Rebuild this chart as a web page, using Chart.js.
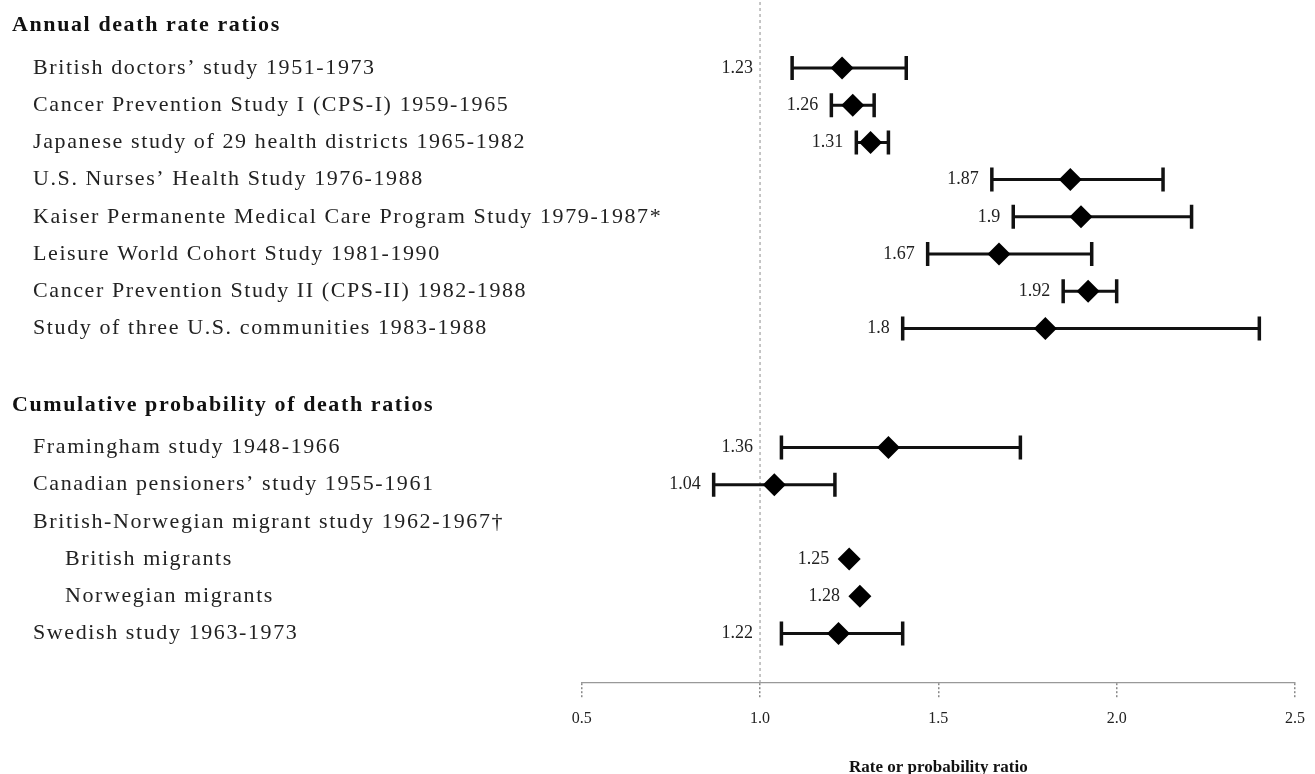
<!DOCTYPE html>
<html>
<head>
<meta charset="utf-8">
<script src="https://cdn.jsdelivr.net/npm/chart.js@4.4.0/dist/chart.umd.min.js"></script>
<style>
  html, body { margin: 0; padding: 0; background: #fff; }
  #wrap { width: 1315px; height: 774px; position: relative; }
</style>
</head>
<body>
<div id="wrap"><canvas id="chart"></canvas></div>
<script>
const sectionTitles = ["Annual death rate ratios", "Cumulative probability of death ratios"]

const studyLabels = [
  "British doctors\u2019 study 1951-1973",
  "Cancer Prevention Study I (CPS-I) 1959-1965",
  "Japanese study of 29 health districts 1965-1982",
  "U.S. Nurses\u2019 Health Study 1976-1988",
  "Kaiser Permanente Medical Care Program Study 1979-1987*",
  "Leisure World Cohort Study 1981-1990",
  "Cancer Prevention Study II (CPS-II) 1982-1988",
  "Study of three U.S. communities 1983-1988",
  "Framingham study 1948-1966",
  "Canadian pensioners\u2019 study 1955-1961",
  "British-Norwegian migrant study 1962-1967\u2020",
  "British migrants",
  "Norwegian migrants",
  "Swedish study 1963-1973",
]
const studySection = [0, 0, 0, 0, 0, 0, 0, 0, 1, 1, 1, 1, 1, 1]
const studyIndent  = [1, 1, 1, 1, 1, 1, 1, 1, 1, 1, 1, 2, 2, 1]

const ratios  = [1.23, 1.26, 1.31, 1.87, 1.9, 1.67, 1.92, 1.8, 1.36, 1.04, null, 1.25, 1.28, 1.22]
const lowerCI = [1.09, 1.20, 1.27, 1.65, 1.71, 1.47, 1.85, 1.40, 1.06, 0.87, null, null, null, 1.06]
const upperCI = [1.41, 1.32, 1.36, 2.13, 2.21, 1.93, 2.00, 2.40, 1.73, 1.21, null, null, null, 1.40]

const xTicks = [0.5, 1.0, 1.5, 2.0, 2.5]
const refValue = 1.0

// row layout (in row units)
const HEADER_GAP = 1.14
const SECTION_GAP = 2.06
const rowY = []
const headerY = []
studyLabels.forEach((_, i) => {
  if (i === 0) {
    rowY.push(0)
    headerY.push(-HEADER_GAP)
  } else if (studySection[i] !== studySection[i - 1]) {
    const h = rowY[i - 1] + SECTION_GAP
    headerY.push(h)
    rowY.push(h + HEADER_GAP)
  } else {
    rowY.push(rowY[i - 1] + 1)
  }
})

const SERIF = "'Liberation Serif', 'Times New Roman', serif"
const ROW_PX = 37.2
const FIRST_ROW_PX = 68
const AXIS_PX = 683

const points = []
ratios.forEach((r, i) => {
  if (r !== null) points.push({ x: r, y: rowY[i], i })
})

const forestPlugin = {
  id: "forest",
  beforeDatasetsDraw(chart) {
    const { ctx, chartArea, scales } = chart
    const xs = scales.x, ys = scales.y

    // reference line at 1.0
    const rx = xs.getPixelForValue(refValue)
    ctx.save()
    ctx.strokeStyle = "#a0a0a0"
    ctx.lineWidth = 1.2
    ctx.setLineDash([3, 3])
    ctx.beginPath()
    ctx.moveTo(rx, chartArea.top + 2)
    ctx.lineTo(rx, chartArea.bottom)
    ctx.stroke()
    ctx.restore()

    // confidence intervals
    ctx.save()
    ctx.strokeStyle = "#111"
    ratios.forEach((r, i) => {
      if (lowerCI[i] === null) return
      const y = ys.getPixelForValue(rowY[i])
      const x1 = xs.getPixelForValue(lowerCI[i])
      const x2 = xs.getPixelForValue(upperCI[i])
      ctx.lineWidth = 3
      ctx.beginPath()
      ctx.moveTo(x1, y)
      ctx.lineTo(x2, y)
      ctx.stroke()
      ctx.lineWidth = 3.5
      ctx.beginPath()
      ctx.moveTo(x1, y - 12)
      ctx.lineTo(x1, y + 12)
      ctx.moveTo(x2, y - 12)
      ctx.lineTo(x2, y + 12)
      ctx.stroke()
    })
    ctx.restore()
  },
  afterDatasetsDraw(chart) {
    const { ctx, scales } = chart
    const xs = scales.x, ys = scales.y
    const rx = xs.getPixelForValue(refValue)

    ctx.save()
    ctx.font = "18px " + SERIF
    ctx.fillStyle = "#222"
    ctx.textAlign = "right"
    ctx.textBaseline = "middle"
    ratios.forEach((r, i) => {
      if (r === null) return
      const y = ys.getPixelForValue(rowY[i])
      const text = String(r)
      const w = ctx.measureText(text).width
      let right
      if (lowerCI[i] !== null) right = xs.getPixelForValue(lowerCI[i]) - 13
      else right = xs.getPixelForValue(r) - 11 - 9
      if (right > rx - 4 && right - w < rx + 4) right = rx - 7
      ctx.fillText(text, right, y)
    })
    ctx.restore()

    // left-hand labels
    ctx.save()
    ctx.textBaseline = "middle"
    ctx.textAlign = "left"
    ctx.fillStyle = "#111"
    ctx.letterSpacing = "1.6px"
    ctx.font = "bold 22px " + SERIF
    sectionTitles.forEach((t, s) => {
      ctx.fillText(t, 12, ys.getPixelForValue(headerY[s]))
    })
    ctx.font = "22px " + SERIF
    ctx.fillStyle = "#222"
    studyLabels.forEach((t, i) => {
      const x = studyIndent[i] === 2 ? 65 : 33
      ctx.fillText(t, x, ys.getPixelForValue(rowY[i]))
    })
    ctx.restore()
  },
}

new Chart(document.getElementById("chart"), {
  type: "scatter",
  data: {
    datasets: [{
      data: points,
      pointStyle: "rectRot",
      pointRadius: 11.5,
      pointHoverRadius: 11.5,
      backgroundColor: "#000",
      borderColor: "#000",
      borderWidth: 0,
    }],
  },
  options: {
    responsive: true,
    maintainAspectRatio: false,
    animation: false,
    events: [],
    layout: { autoPadding: false, padding: { left: 581.7, right: 14.3, top: 0, bottom: 0 } },
    plugins: { legend: { display: false }, tooltip: { enabled: false } },
    scales: {
      x: {
        type: "linear",
        min: xTicks[0],
        max: xTicks[xTicks.length - 1],
        afterBuildTicks: (scale) => { scale.ticks = xTicks.map(v => ({ value: v })) },
        afterFit: (scale) => { scale.height = 774 - AXIS_PX },
        ticks: {
          callback: (v) => Number(v).toFixed(1),
          font: { family: SERIF, size: 16 },
          color: "#222",
          padding: 10,
          maxRotation: 0,
          autoSkip: false,
        },
        grid: {
          drawOnChartArea: false,
          drawTicks: true,
          tickLength: 16,
          color: "#888",
          lineWidth: 1.5,
          tickBorderDash: [2, 2],
        },
        border: { display: true, color: "#999", width: 1.2, dash: [2, 3] },
        title: {
          display: true,
          text: "Rate or probability ratio",
          font: { family: SERIF, size: 17, weight: "bold" },
          color: "#111",
          padding: { top: 0, bottom: -4 },
        },
      },
      y: {
        type: "linear",
        display: false,
        reverse: true,
        min: -FIRST_ROW_PX / ROW_PX,
        max: (AXIS_PX - FIRST_ROW_PX) / ROW_PX,
      },
    },
  },
  plugins: [forestPlugin],
})
</script>
</body>
</html>
